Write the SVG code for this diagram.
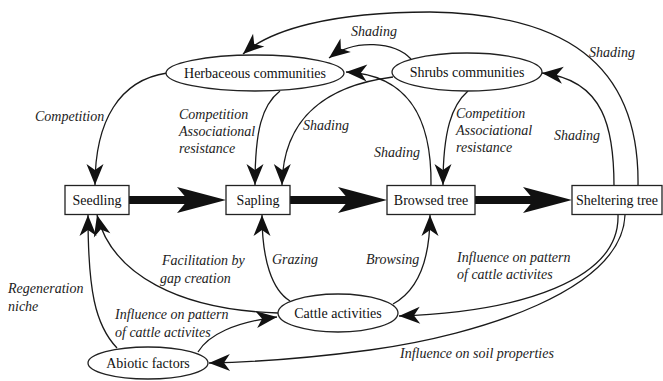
<svg xmlns="http://www.w3.org/2000/svg" width="663" height="381" viewBox="0 0 663 381">
<style>
.node rect, .node ellipse { fill: #fff; stroke: #222; stroke-width: 1.3; }
.node text { font-family: "Liberation Serif", "DejaVu Serif", "Liberation Sans", serif; font-size: 14px; fill: #111; text-anchor: middle; }
.conn path { fill: none; stroke: #1a1a1a; stroke-width: 1.3; marker-end: url(#ah); }
.conn path.thick { stroke: #111; stroke-width: 8; marker-end: url(#big); }
.lbl { font-family: "Liberation Serif", "DejaVu Serif", "Liberation Sans", serif; font-size: 14px; font-style: italic; fill: #222; }
</style>
<defs>
<marker id="ah" viewBox="-22 -10 23 20" refX="0" refY="0" markerWidth="23" markerHeight="20" markerUnits="userSpaceOnUse" orient="auto">
<path d="M0,0 L-21,-8.5 L-15,0 L-21,8.5 Z" fill="#111"/>
</marker>
<marker id="big" viewBox="-50 -14 51 28" refX="-34" refY="0" markerWidth="51" markerHeight="28" markerUnits="userSpaceOnUse" orient="auto">
<path d="M0,0 L-49,-13 L-38,0 L-49,13 Z" fill="#111"/>
</marker>
</defs>
<rect width="663" height="381" fill="#fff"/>
<g id="connectors" class="conn">
<path class="thick" d="M129,200 H192"/>
<path class="thick" d="M290,200 H353"/>
<path class="thick" d="M475,200 H538"/>
<path d="M638,186 C640,60 560,14 430,12 C330,12 270,30 243,54"/>
<path d="M614,186 C614,130 605,80 542,73"/>
<path d="M411,59 C395,42 355,38 329,58"/>
<path d="M431,186 C432,120 410,75 346,72"/>
<path d="M393,77 C330,85 283,115 282,185"/>
<path d="M280,91 C262,105 255,130 255,185"/>
<path d="M167,73 C120,80 95,120 95,185"/>
<path d="M468,91 C452,105 443,130 443,185"/>
<path d="M278,313 C180,310 112,275 97,215"/>
<path d="M117,348 C95,325 88,290 88,215"/>
<path d="M198,352 C208,335 235,322 277,317"/>
<path d="M290,301 C272,290 262,260 262,215"/>
<path d="M393,304 C415,292 430,265 430,215"/>
<path d="M618,215 C620,280 520,312 399,316"/>
<path d="M625,215 C622,290 480,335 370,350 C310,358 260,362 209,363"/>
</g>
<g id="herbaceous" class="node"><ellipse cx="255" cy="73" rx="89" ry="18"/><text x="255" y="78">Herbaceous communities</text></g>
<g id="shrubs" class="node"><ellipse cx="467" cy="72" rx="75" ry="19"/><text x="467" y="77">Shrubs communities</text></g>
<g id="seedling" class="node"><rect x="65" y="185.5" width="64" height="29"/><text x="97" y="205">Seedling</text></g>
<g id="sapling" class="node"><rect x="226" y="185.5" width="64" height="29"/><text x="258" y="205">Sapling</text></g>
<g id="browsed" class="node"><rect x="387" y="185.5" width="88" height="29"/><text x="431" y="205">Browsed tree</text></g>
<g id="sheltering" class="node"><rect x="572" y="185.5" width="90" height="29"/><text x="617" y="205">Sheltering tree</text></g>
<g id="cattle" class="node"><ellipse cx="338" cy="313" rx="60" ry="19"/><text x="338" y="318">Cattle activities</text></g>
<g id="abiotic" class="node"><ellipse cx="148" cy="363" rx="60" ry="16"/><text x="148" y="368">Abiotic factors</text></g>
<g id="labels">
<text class="lbl" x="351" y="36">Shading</text>
<text class="lbl" x="589" y="57">Shading</text>
<text class="lbl" x="554" y="140">Shading</text>
<text class="lbl" x="374" y="157">Shading</text>
<text class="lbl" x="303" y="130">Shading</text>
<text class="lbl" x="35" y="121">Competition</text>
<text class="lbl" x="179" y="119">Competition</text>
<text class="lbl" x="179" y="136">Associational</text>
<text class="lbl" x="179" y="153">resistance</text>
<text class="lbl" x="456" y="118">Competition</text>
<text class="lbl" x="456" y="135">Associational</text>
<text class="lbl" x="456" y="152">resistance</text>
<text class="lbl" x="162" y="265">Facilitation by</text>
<text class="lbl" x="160" y="283">gap creation</text>
<text class="lbl" x="272" y="264">Grazing</text>
<text class="lbl" x="366" y="264">Browsing</text>
<text class="lbl" x="8" y="293">Regeneration</text>
<text class="lbl" x="8" y="311">niche</text>
<text class="lbl" x="115" y="319">Influence on pattern</text>
<text class="lbl" x="115" y="337">of cattle activites</text>
<text class="lbl" x="457" y="262">Influence on pattern</text>
<text class="lbl" x="457" y="279">of cattle activites</text>
<text class="lbl" x="400" y="358">Influence on soil properties</text>
</g>
</svg>
